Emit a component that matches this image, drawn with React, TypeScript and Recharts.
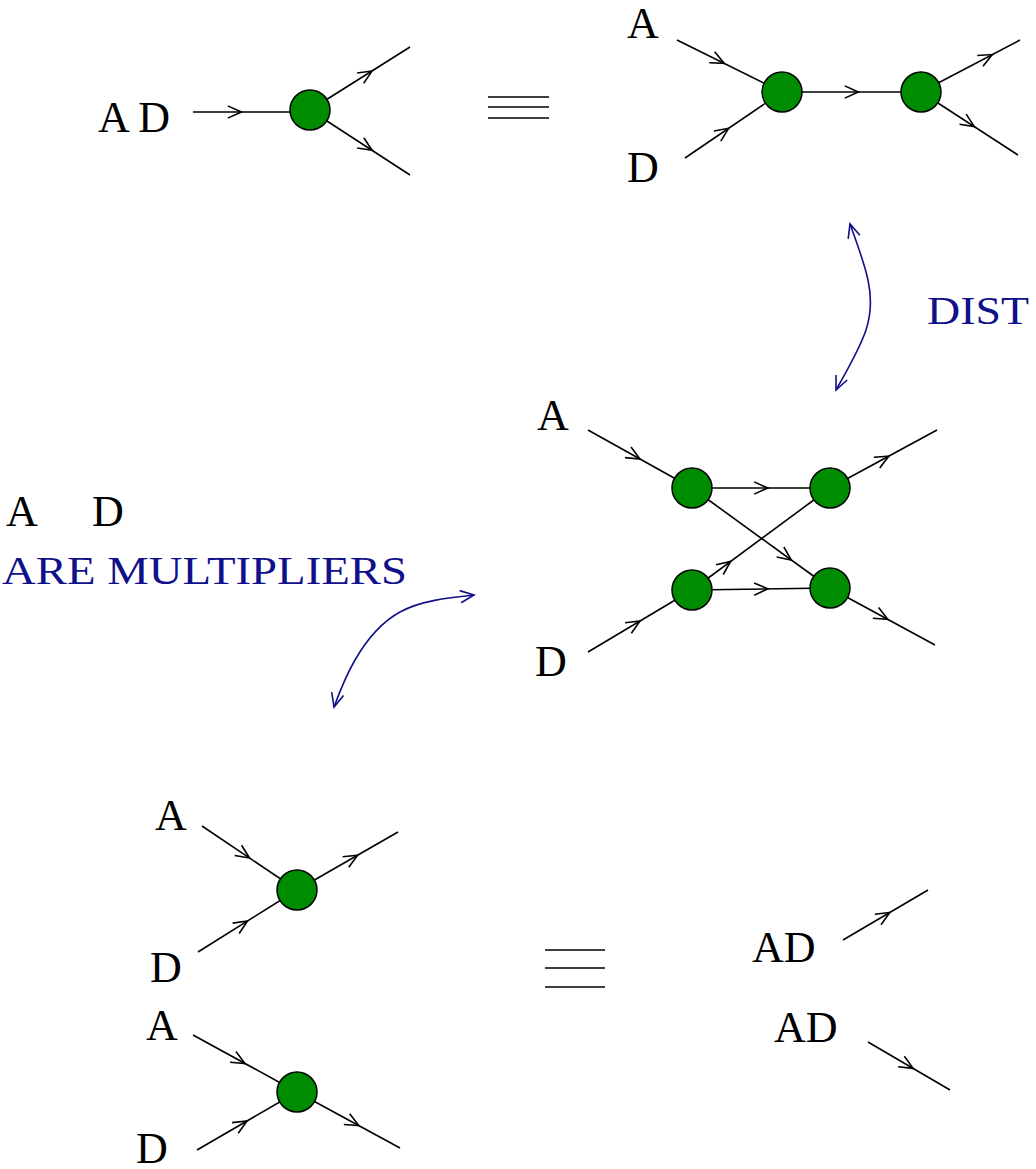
import React from "react";
import { ComposedChart, XAxis, YAxis, Scatter, Line, ReferenceLine } from "recharts";

const BLUE = "#10108a";

const nodes = [
  { x: 310, y: 110 }, { x: 782, y: 92 }, { x: 921, y: 92 },
  { x: 692, y: 488 }, { x: 830, y: 488 }, { x: 692, y: 590 }, { x: 830, y: 588 },
  { x: 297, y: 890 }, { x: 297, y: 1092 },
];

// x1,y1,x2,y2, t = arrow position along edge (0 = no arrow)
const edges = [
  [193, 112, 290, 112, 0.5], [310, 110, 410, 47, 0.62], [310, 110, 410, 175, 0.62],
  [677, 40, 782, 92, 0.45], [685, 158, 782, 92, 0.45], [782, 92, 921, 92, 0.55],
  [921, 92, 1020, 40, 0.72], [921, 92, 1018, 155, 0.55],
  [588, 430, 692, 488, 0.5], [588, 652, 692, 590, 0.5],
  [692, 488, 830, 488, 0.55], [692, 590, 830, 588, 0.55],
  [692, 488, 830, 588, 0.72], [692, 590, 830, 488, 0.28],
  [830, 488, 937, 430, 0.55], [830, 588, 935, 645, 0.55],
  [202, 826, 297, 890, 0.5], [198, 952, 297, 890, 0.5], [297, 890, 398, 832, 0.6],
  [193, 1035, 297, 1092, 0.5], [197, 1150, 297, 1092, 0.5], [297, 1092, 400, 1148, 0.6],
  [843, 940, 928, 890, 0.55], [868, 1042, 950, 1090, 0.55],
];

const equivLines = [
  [488, 97, 549, 97], [488, 107, 549, 107], [488, 118, 549, 118],
  [545, 950, 605, 950], [545, 968, 605, 968], [545, 987, 605, 987],
];

const distCurve = [
  { x: 850, y: 224 }, { x: 868, y: 280 }, { x: 866, y: 330 }, { x: 836, y: 390 },
];
const multCurve = [
  { x: 474, y: 595 }, { x: 400, y: 612 }, { x: 355, y: 660 }, { x: 334, y: 707 },
];
const curveHeads = [
  [858, 250, 850, 224], [845, 370, 836, 390], [450, 598, 474, 595], [340, 685, 334, 707],
];

const labels = [
  { x: 98, y: 132, t: "A D", c: "#000", s: 44, w: 0 },
  { x: 627, y: 38, t: "A", c: "#000", s: 44, w: 0 },
  { x: 627, y: 182, t: "D", c: "#000", s: 44, w: 0 },
  { x: 537, y: 430, t: "A", c: "#000", s: 44, w: 0 },
  { x: 535, y: 676, t: "D", c: "#000", s: 44, w: 0 },
  { x: 6, y: 526, t: "A", c: "#000", s: 44, w: 0 },
  { x: 92, y: 526, t: "D", c: "#000", s: 44, w: 0 },
  { x: 2, y: 584, t: "ARE MULTIPLIERS", c: BLUE, s: 40, w: 405 },
  { x: 927, y: 324, t: "DIST", c: BLUE, s: 40, w: 102 },
  { x: 155, y: 830, t: "A", c: "#000", s: 44, w: 0 },
  { x: 150, y: 982, t: "D", c: "#000", s: 44, w: 0 },
  { x: 146, y: 1040, t: "A", c: "#000", s: 44, w: 0 },
  { x: 136, y: 1163, t: "D", c: "#000", s: 44, w: 0 },
  { x: 752, y: 962, t: "AD", c: "#000", s: 44, w: 0 },
  { x: 774, y: 1042, t: "AD", c: "#000", s: 44, w: 0 },
];

const head = (x1: number, y1: number, x2: number, y2: number, t: number, color: string) => {
  const px = x1 + (x2 - x1) * t, py = y1 + (y2 - y1) * t;
  const a = Math.atan2(y2 - y1, x2 - x1);
  const L = 15, w = 0.42;
  const p1 = [px - L * Math.cos(a - w), py - L * Math.sin(a - w)];
  const p2 = [px - L * Math.cos(a + w), py - L * Math.sin(a + w)];
  return <path d={`M${p1[0]},${p1[1]} L${px},${py} L${p2[0]},${p2[1]}`} fill="none" stroke={color} strokeWidth={1.6} />;
};

const edgeShape = (t: number, color: string, drawLine: boolean) => (p: any) => (
  <g>
    {drawLine && <line x1={p.x1} y1={p.y1} x2={p.x2} y2={p.y2} stroke={color} strokeWidth={1.6} />}
    {t > 0 && head(p.x1, p.y1, p.x2, p.y2, t, color)}
  </g>
);

const nodeShape = (p: any) => <circle cx={p.cx} cy={p.cy} r={20} fill="#008c00" stroke="#000" strokeWidth={1.5} />;
const textShape = (p: any) => {
  const d = p.payload;
  const extra = d.w ? { textLength: d.w, lengthAdjust: "spacingAndGlyphs" } : {};
  return (
    <text x={p.cx} y={p.cy} fill={d.c} fontSize={d.s} fontFamily="Liberation Serif, serif" {...extra}>{d.t}</text>
  );
};

export default function App() {
  return (
    <div style={{ position: "absolute", left: 0, top: 0, background: "#fff" }}>
      <ComposedChart width={1036} height={1169} margin={{ top: 0, right: 0, bottom: 0, left: 0 }}>
        <XAxis type="number" dataKey="x" domain={[0, 1036]} hide allowDataOverflow />
        <YAxis type="number" dataKey="y" domain={[0, 1169]} reversed hide width={0} allowDataOverflow />
        {edges.map((e, i) => (
          <ReferenceLine key={"e" + i} segment={[{ x: e[0], y: e[1] }, { x: e[2], y: e[3] }]}
            ifOverflow="visible" shape={edgeShape(e[4], "#000", true)} />
        ))}
        {equivLines.map((e, i) => (
          <ReferenceLine key={"q" + i} segment={[{ x: e[0], y: e[1] }, { x: e[2], y: e[3] }]}
            ifOverflow="visible" shape={edgeShape(0, "#000", true)} />
        ))}
        {curveHeads.map((e, i) => (
          <ReferenceLine key={"h" + i} segment={[{ x: e[0], y: e[1] }, { x: e[2], y: e[3] }]}
            ifOverflow="visible" shape={edgeShape(1, BLUE, false)} />
        ))}
        <Line data={distCurve} dataKey="y" type="natural" stroke={BLUE} strokeWidth={1.6} dot={false} isAnimationActive={false} />
        <Line data={multCurve} dataKey="y" type="natural" stroke={BLUE} strokeWidth={1.6} dot={false} isAnimationActive={false} />
        <Scatter data={nodes} dataKey="y" shape={nodeShape} isAnimationActive={false} />
        <Scatter data={labels} dataKey="y" shape={textShape} isAnimationActive={false} />
      </ComposedChart>
    </div>
  );
}
